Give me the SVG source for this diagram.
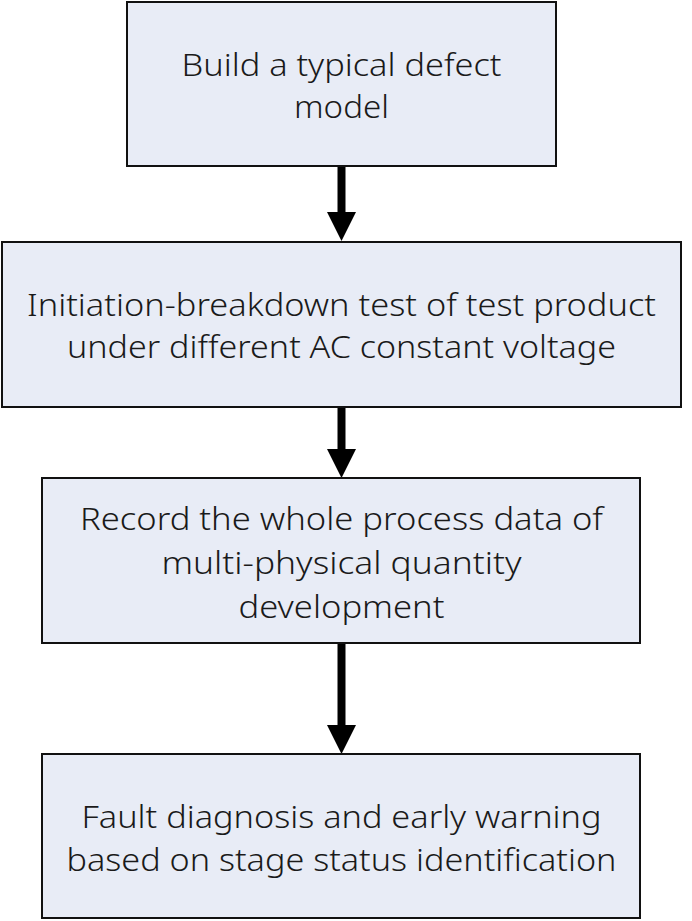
<svg xmlns="http://www.w3.org/2000/svg" width="692" height="921" viewBox="0 0 692 921">
<style>
.box{fill:#E8ECF6;stroke:#111;stroke-width:2}
.t{font-family:"Noto Sans","Open Sans",sans-serif;font-size:31px;font-weight:300;fill:#1a1a1a;text-anchor:middle}
.shaft{stroke:#000;stroke-width:8;fill:none}
.head{fill:#000}
</style>
<rect width="692" height="921" fill="#fff"/>
<g id="connectors">
<line class="shaft" x1="341.5" y1="166" x2="341.5" y2="214"/>
<polygon class="head" points="327,212 356,212 341.5,241"/>
<line class="shaft" x1="341.5" y1="407" x2="341.5" y2="451"/>
<polygon class="head" points="327,449 356,449 341.5,478"/>
<line class="shaft" x1="341.5" y1="643" x2="341.5" y2="727"/>
<polygon class="head" points="327,725 356,725 341.5,754"/>
</g>
<g id="n1">
<rect class="box" x="127" y="2" width="429" height="164"/>
<text class="t" x="341.5" y="76" textLength="320" lengthAdjust="spacingAndGlyphs">Build a typical defect</text>
<text class="t" x="341.5" y="118" textLength="95" lengthAdjust="spacingAndGlyphs">model</text>
</g>
<g id="n2">
<rect class="box" x="2" y="242" width="679" height="165"/>
<text class="t" x="341.5" y="316" textLength="629" lengthAdjust="spacingAndGlyphs">Initiation-breakdown test of test product</text>
<text class="t" x="341.5" y="358" textLength="549" lengthAdjust="spacingAndGlyphs">under different AC constant voltage</text>
</g>
<g id="n3">
<rect class="box" x="42" y="478" width="598" height="165"/>
<text class="t" x="341.5" y="530" textLength="523" lengthAdjust="spacingAndGlyphs">Record the whole process data of</text>
<text class="t" x="341.5" y="574" textLength="360" lengthAdjust="spacingAndGlyphs">multi-physical quantity</text>
<text class="t" x="341.5" y="618" textLength="206" lengthAdjust="spacingAndGlyphs">development</text>
</g>
<g id="n4">
<rect class="box" x="42" y="754" width="598" height="164"/>
<text class="t" x="341.5" y="828" textLength="520" lengthAdjust="spacingAndGlyphs">Fault diagnosis and early warning</text>
<text class="t" x="341.5" y="871" textLength="550" lengthAdjust="spacingAndGlyphs">based on stage status identification</text>
</g>
</svg>
